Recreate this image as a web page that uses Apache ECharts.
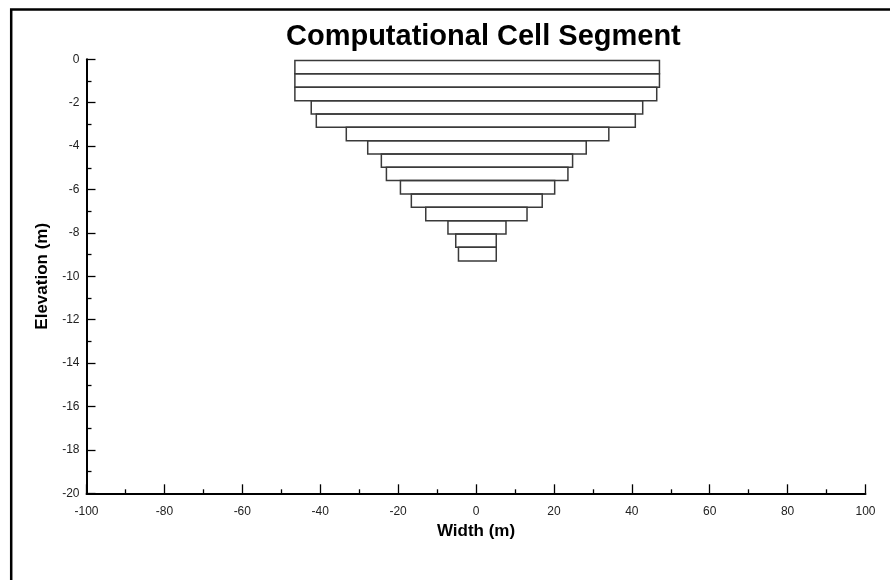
<!DOCTYPE html>
<html>

<head>
	<meta charset="utf-8">
	<title>Computational Cell Segment</title>
	<script src="https://cdn.jsdelivr.net/npm/echarts@6/dist/echarts.min.js"></script>
	<style>
		html, body { margin: 0; padding: 0; background: #fff; }
	</style>
</head>

<body>
	<div id="main" style="width: 890px;height:580px;"></div>

	<script type="text/javascript">
		// cell widths (m), one per layer, top layer first
		var leftEdge = [-46.5, -46.5, -46.5, -42.3, -41.0, -33.3, -27.8, -24.3, -23.0, -19.4, -16.6, -12.9, -7.2, -5.2, -4.5];
		var rightEdge = [47.1, 47.1, 46.4, 42.8, 40.9, 34.1, 28.3, 24.8, 23.6, 20.2, 17.0, 13.1, 7.7, 5.2, 5.2];
		// layer boundaries (m), top to bottom
		var elevations = [-0.05, -0.67, -1.29, -1.91, -2.52, -3.13, -3.75, -4.36, -4.98, -5.59, -6.21, -6.82, -7.44, -8.05, -8.66, -9.3];

		var cells = [];
		for (var i = 0; i < leftEdge.length; i++) {
			cells.push([leftEdge[i], rightEdge[i], elevations[i], elevations[i + 1]]);
		}

		var myChart = echarts.init(document.getElementById('main'));
		var axisFont = {
			fontFamily: 'Liberation Sans, Arial, sans-serif',
			fontSize: 12,
			color: '#222'
		};
		var nameFont = {
			fontFamily: 'Liberation Sans, Arial, sans-serif',
			fontSize: 17,
			fontWeight: 'bold',
			color: '#000'
		};

		option = {
			animation: false,
			backgroundColor: '#fff',
			title: {
				text: 'Computational Cell Segment',
				left: 286,
				top: 22,
				padding: 0,
				textStyle: {
					fontFamily: 'Liberation Sans, Arial, sans-serif',
					fontSize: 29,
					fontWeight: 'bold',
					color: '#000'
				}
			},
			graphic: [{
				type: 'rect',
				shape: { x: 11.2, y: 9.5, width: 2000, height: 2000 },
				style: { fill: 'none', stroke: '#000', lineWidth: 2.5 },
				silent: true
			}],
			grid: {
				left: 86.5,
				right: 24.5,
				top: 59.3,
				bottom: 86.7
			},
			xAxis: {
				type: 'value',
				min: -100,
				max: 100,
				interval: 20,
				name: 'Width (m)',
				nameLocation: 'middle',
				nameGap: 30,
				nameTextStyle: nameFont,
				axisLine: { show: true, onZero: false, lineStyle: { color: '#000', width: 2 } },
				axisTick: { show: true, inside: true, length: 9, lineStyle: { color: '#000', width: 1.3 } },
				minorTick: { show: true, splitNumber: 2, length: 4, lineStyle: { color: '#000', width: 1.3 } },
				axisLabel: Object.assign({ margin: 12 }, axisFont),
				splitLine: { show: false }
			},
			yAxis: {
				type: 'value',
				min: -20,
				max: 0,
				interval: 2,
				name: 'Elevation (m)',
				nameLocation: 'middle',
				nameGap: 34,
				nameTextStyle: nameFont,
				axisLine: { show: true, onZero: false, lineStyle: { color: '#000', width: 2 } },
				axisTick: { show: true, inside: true, length: 9, lineStyle: { color: '#000', width: 1.3 } },
				minorTick: { show: true, splitNumber: 2, length: 5, lineStyle: { color: '#000', width: 1.3 } },
				axisLabel: Object.assign({ margin: 7 }, axisFont),
				splitLine: { show: false }
			},
			series: [{
				type: 'custom',
				data: cells,
				encode: { x: [0, 1], y: [2, 3] },
				renderItem: function (params, api) {
					var p0 = api.coord([api.value(0), api.value(2)]);
					var p1 = api.coord([api.value(1), api.value(3)]);
					return {
						type: 'rect',
						shape: { x: p0[0], y: p0[1], width: p1[0] - p0[0], height: p1[1] - p0[1] },
						style: { fill: 'none', stroke: '#3a3a3a', lineWidth: 1.5 }
					};
				}
			}]
		};

		myChart.setOption(option);
	</script>
</body>

</html>
